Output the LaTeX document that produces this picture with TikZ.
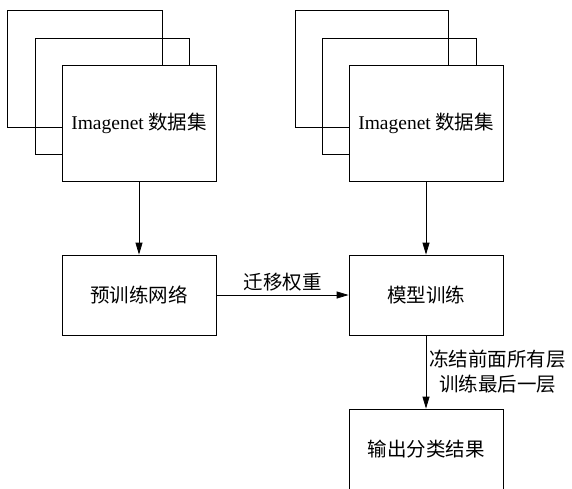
\documentclass[tikz,border=0pt]{standalone}
\usepackage{fontspec}
\setmainfont{Liberation Serif}
\newfontfamily\cjk{Noto Sans CJK SC}
\usetikzlibrary{arrows.meta}
\begin{document}
\begin{tikzpicture}[x=1pt,y=-1pt,line width=0.8pt,
    font=\fontsize{19.5}{25}\selectfont\cjk,
    data/.style={draw,fill=white,minimum width=154pt,minimum height=116pt,inner sep=0pt},
    blk/.style={draw,fill=white,minimum width=154pt,minimum height=80pt},
    arr/.style={-{Triangle[length=12pt,width=7pt]}}]
  \useasboundingbox (0,0) rectangle (572,488);
  % sheets behind the data sets
  \draw (7,10) rectangle (162,127) (35,38) rectangle (189,154);
  \draw (295,10) rectangle (448,127) (322,38) rectangle (476,154);
  \node[data] (dataL) at (139,123.5) {{\rmfamily Imagenet} 数据集};
  \node[data] (dataR) at (426,123.5) {{\rmfamily Imagenet} 数据集};
  \node[blk] (pretrain) at (139,295) {预训练网络};
  \node[blk] (train) at (426,295) {模型训练};
  \node[blk] (output) at (426,449) {输出分类结果};
  \draw[arr] (dataL)--(pretrain);
  \draw[arr] (dataR)--(train);
  \draw[arr] (pretrain)--node[above]{迁移权重}(train);
  \draw[arr] (train)--node[right,align=center,inner sep=3pt]{冻结前面所有层\\训练最后一层}(output);
\end{tikzpicture}
\end{document}
